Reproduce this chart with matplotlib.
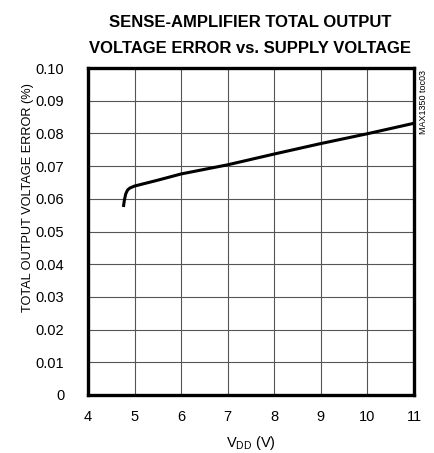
import matplotlib
matplotlib.use('Agg')
import matplotlib.pyplot as plt
from matplotlib import font_manager

# ── Data ──────────────────────────────────────────────────────────
vdd = [4.76, 4.78, 4.81, 4.85, 4.90, 5.0, 5.5, 6.0, 7.0, 8.0, 9.0, 10.0, 11.0]
error_pct = [0.0575, 0.0595, 0.0615, 0.0627, 0.0633, 0.0639, 0.0657,
             0.0676, 0.0704, 0.0737, 0.0769, 0.0799, 0.0831]

x_ticks = [4, 5, 6, 7, 8, 9, 10, 11]
y_ticks = [0, 0.01, 0.02, 0.03, 0.04, 0.05, 0.06, 0.07, 0.08, 0.09, 0.10]
y_tick_labels = ['0', '0.01', '0.02', '0.03', '0.04', '0.05', '0.06',
                 '0.07', '0.08', '0.09', '0.10']

names = {f.name for f in font_manager.fontManager.ttflist}
narrow = 'Liberation Sans Narrow' if 'Liberation Sans Narrow' in names else 'Liberation Sans'
plt.rcParams['font.family'] = [narrow, 'DejaVu Sans']
plt.rcParams['mathtext.fontset'] = 'custom'
plt.rcParams['mathtext.rm'] = narrow

W, H = 434, 453
fig = plt.figure(figsize=(W / 100, H / 100), dpi=100)
ax = fig.add_axes([88 / W, 1 - 395 / H, (414 - 88) / W, (395 - 68) / H])

ax.plot(vdd, error_pct, color='black', linewidth=2.2, solid_capstyle='butt')

ax.set_xlim(4, 11)
ax.set_ylim(0, 0.10)
ax.set_xticks(x_ticks)
ax.set_xticklabels([str(t) for t in x_ticks], fontsize=10.5)
ax.set_yticks(y_ticks)
ax.set_yticklabels(y_tick_labels, fontsize=10.5)
ax.tick_params(axis='y', length=0, pad=17)
ax.tick_params(axis='x', length=0, pad=11)
ax.grid(True, color='#555555', linewidth=0.8)
for s in ax.spines.values():
    s.set_linewidth(2.4)

ax.set_xlabel(r'V$_{\mathregular{DD}}$ (V)', fontsize=10.5)
ax.xaxis.set_label_coords(0.5, -(434 - 395) / 327)
ax.set_ylabel('TOTAL OUTPUT VOLTAGE ERROR (%)', fontsize=9.2)
ax.yaxis.set_label_coords(-(88 - 34) / 326, (395 - 198) / 327)

fig.text(250 / W, 1 - 27 / H, 'SENSE-AMPLIFIER TOTAL OUTPUT',
         ha='center', va='baseline', fontsize=12, fontweight='bold')
fig.text(250 / W, 1 - 53 / H, 'VOLTAGE ERROR vs. SUPPLY VOLTAGE',
         ha='center', va='baseline', fontsize=12, fontweight='bold')
fig.text(424 / W, 1 - 70 / H, 'MAX1350 toc03', rotation=90, ha='center', va='top',
         fontsize=6.5)

fig.savefig('out.png', dpi=100)
